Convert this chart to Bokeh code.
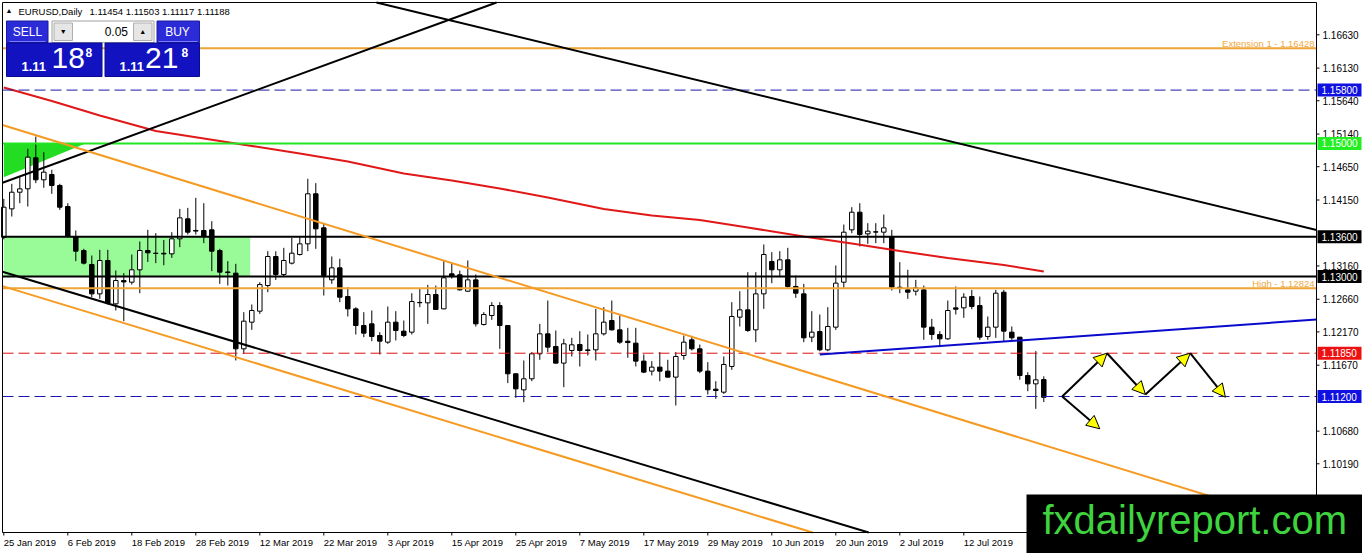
import numpy as np
from bokeh.plotting import figure
from bokeh.models import Range1d, Arrow, NormalHead, ColumnDataSource
from bokeh.core.properties import value
from bokeh.embed import file_html
from bokeh.resources import INLINE

# ---------------- data ----------------
symbol = "EURUSD,Daily"
tick_bars = [0, 8, 16, 24, 32, 40, 48, 56, 64, 72, 80, 88, 96, 104, 112, 120]
tick_labels = ["25 Jan 2019", "6 Feb 2019", "18 Feb 2019", "28 Feb 2019", "12 Mar 2019",
               "22 Mar 2019", "3 Apr 2019", "15 Apr 2019", "25 Apr 2019", "7 May 2019",
               "17 May 2019", "29 May 2019", "10 Jun 2019", "20 Jun 2019", "2 Jul 2019",
               "12 Jul 2019"]
price_ticks = [1.16630, 1.16130, 1.15640, 1.15140, 1.14650, 1.14150, 1.13160,
               1.12660, 1.12170, 1.11670, 1.10680, 1.10190]

opens = [1.13590, 1.14017, 1.14267, 1.14318, 1.14783, 1.14453, 1.14533, 1.14368, 1.14052, 1.13602,
         1.13392, 1.13182, 1.12741, 1.13242, 1.12591, 1.12940, 1.12916, 1.13102, 1.13392, 1.13352,
         1.13350, 1.13342, 1.13567, 1.13867, 1.13693, 1.13692, 1.13702, 1.13392, 1.13070, 1.13052,
         1.11916, 1.12316, 1.12481, 1.12866, 1.13302, 1.13032, 1.13202, 1.13332, 1.13492, 1.14243,
         1.13732, 1.12952, 1.13132, 1.12701, 1.12516, 1.12266, 1.12291, 1.12116, 1.12016, 1.12316,
         1.12181, 1.12166, 1.12612, 1.12606, 1.12731, 1.12516, 1.13042, 1.13027, 1.12781, 1.12951,
         1.12281, 1.12416, 1.12566, 1.12266, 1.11541, 1.11300, 1.11466, 1.11841, 1.12141, 1.11951,
         1.11701, 1.11891, 1.11981, 1.11900, 1.11901, 1.12141, 1.12341, 1.12201, 1.12030, 1.12001,
         1.11731, 1.11581, 1.11641, 1.11581, 1.11491, 1.11816, 1.12051, 1.11916, 1.11581, 1.11310,
         1.11265, 1.11651, 1.12391, 1.12501, 1.12201, 1.12741, 1.13227, 1.13102, 1.13252, 1.12852,
         1.12741, 1.12091, 1.12176, 1.11901, 1.12241, 1.12916, 1.13702, 1.13967, 1.13642, 1.13672,
         1.13667, 1.13602, 1.12840, 1.12801, 1.12781, 1.12801, 1.12241, 1.12131, 1.12066, 1.12531,
         1.12531, 1.12701, 1.12566, 1.12101, 1.12241, 1.12766, 1.12166, 1.12091, 1.11515, 1.11390,
         1.11454]
highs = [1.14167, 1.14393, 1.14493, 1.14918, 1.15103, 1.14868, 1.14603, 1.14393, 1.14102, 1.13692,
         1.13417, 1.13317, 1.13402, 1.13402, 1.13092, 1.13052, 1.13332, 1.13527, 1.13702, 1.13652,
         1.13550, 1.13667, 1.14017, 1.14032, 1.14182, 1.14102, 1.13832, 1.13417, 1.13232, 1.13192,
         1.12466, 1.12581, 1.12916, 1.13382, 1.13380, 1.13432, 1.13582, 1.13592, 1.14468, 1.14403,
         1.13802, 1.13302, 1.13267, 1.12841, 1.12540, 1.12466, 1.12491, 1.12166, 1.12551, 1.12481,
         1.12341, 1.12751, 1.12816, 1.12876, 1.12866, 1.13232, 1.13192, 1.13090, 1.13242, 1.13032,
         1.12466, 1.12616, 1.12616, 1.12270, 1.11550, 1.11741, 1.11866, 1.12291, 1.12641, 1.12191,
         1.12066, 1.12081, 1.12181, 1.12131, 1.12516, 1.12541, 1.12641, 1.12416, 1.12231, 1.12231,
         1.11831, 1.11731, 1.11866, 1.11751, 1.11866, 1.12116, 1.12110, 1.11980, 1.11716, 1.11430,
         1.11801, 1.12616, 1.12781, 1.13067, 1.13067, 1.13482, 1.13367, 1.13382, 1.13432, 1.13017,
         1.12891, 1.12481, 1.12431, 1.12541, 1.13167, 1.13782, 1.14042, 1.14102, 1.13802, 1.13802,
         1.13932, 1.13702, 1.13217, 1.13102, 1.12951, 1.12866, 1.12366, 1.12181, 1.12641, 1.12851,
         1.12751, 1.12801, 1.12701, 1.12401, 1.12801, 1.12801, 1.12251, 1.12091, 1.11565, 1.11881,
         1.11503]
lows = [1.13560, 1.13902, 1.14102, 1.14052, 1.14403, 1.14333, 1.14243, 1.14002, 1.13597, 1.13232,
        1.13182, 1.12691, 1.12666, 1.12581, 1.12491, 1.12331, 1.12881, 1.12751, 1.13220, 1.13202,
        1.13170, 1.13282, 1.13442, 1.13632, 1.13632, 1.13502, 1.13082, 1.12891, 1.12866, 1.11741,
        1.11841, 1.12201, 1.12440, 1.12766, 1.12950, 1.13002, 1.13182, 1.13317, 1.13382, 1.13417,
        1.12716, 1.12892, 1.12616, 1.12401, 1.12131, 1.12091, 1.12031, 1.11831, 1.11991, 1.12041,
        1.12091, 1.12131, 1.12541, 1.12291, 1.12501, 1.12510, 1.12970, 1.12790, 1.12770, 1.12251,
        1.12266, 1.12351, 1.11916, 1.11401, 1.11180, 1.11115, 1.11430, 1.11751, 1.11866, 1.11691,
        1.11340, 1.11800, 1.11651, 1.11816, 1.11741, 1.12116, 1.12190, 1.11991, 1.11781, 1.11651,
        1.11551, 1.11516, 1.11430, 1.11480, 1.11065, 1.11751, 1.11890, 1.11550, 1.11230, 1.11165,
        1.11240, 1.11601, 1.12251, 1.12170, 1.12016, 1.12516, 1.12901, 1.12992, 1.12832, 1.12681,
        1.12016, 1.12016, 1.11880, 1.11880, 1.12200, 1.12831, 1.13652, 1.13452, 1.13492, 1.13502,
        1.13502, 1.12791, 1.12751, 1.12666, 1.12716, 1.12051, 1.12051, 1.11941, 1.12051, 1.12431,
        1.12381, 1.12510, 1.12050, 1.12051, 1.12081, 1.12031, 1.12050, 1.11451, 1.11280, 1.11015,
        1.11117]
closes = [1.14042, 1.14267, 1.14317, 1.14793, 1.14453, 1.14568, 1.14368, 1.14042, 1.13602, 1.13382,
          1.13202, 1.12741, 1.13242, 1.12601, 1.12941, 1.12920, 1.13102, 1.13392, 1.13357, 1.13347,
          1.13340, 1.13567, 1.13882, 1.13667, 1.13683, 1.13602, 1.13382, 1.13067, 1.13060, 1.11916,
          1.12331, 1.12491, 1.12881, 1.13302, 1.13032, 1.13242, 1.13352, 1.13492, 1.14243, 1.13717,
          1.13017, 1.13132, 1.12691, 1.12516, 1.12266, 1.12151, 1.12101, 1.12031, 1.12316, 1.12191,
          1.12116, 1.12626, 1.12608, 1.12731, 1.12506, 1.12982, 1.13002, 1.12801, 1.12951, 1.12291,
          1.12431, 1.12566, 1.12266, 1.11541, 1.11315, 1.11466, 1.11841, 1.12141, 1.11941, 1.11701,
          1.11991, 1.11976, 1.11891, 1.11890, 1.12141, 1.12316, 1.12201, 1.12016, 1.12010, 1.11731,
          1.11566, 1.11641, 1.11581, 1.11491, 1.11801, 1.12016, 1.11916, 1.11581, 1.11301, 1.11290,
          1.11681, 1.12401, 1.12501, 1.12191, 1.12741, 1.13332, 1.13102, 1.13252, 1.12852, 1.12751,
          1.12081, 1.12166, 1.11901, 1.12251, 1.12902, 1.13667, 1.13967, 1.13632, 1.13682, 1.13668,
          1.13732, 1.12841, 1.12830, 1.12766, 1.12831, 1.12241, 1.12131, 1.12066, 1.12491, 1.12510,
          1.12691, 1.12551, 1.12091, 1.12241, 1.12751, 1.12181, 1.12081, 1.11515, 1.11390, 1.11450,
          1.11188]

# moving average (red curve) read at selected bars
ma_bars = [0, 6, 12, 19, 25, 31, 37, 43, 50, 56, 62, 68, 75, 81, 87, 93, 100, 106, 112, 118, 125, 130]
ma_vals = [1.15839, 1.15636, 1.15419, 1.15186, 1.15073, 1.14961, 1.14848, 1.14728, 1.14548, 1.14443,
           1.14323, 1.14188, 1.14015, 1.13917, 1.13850, 1.13737, 1.13602, 1.13497, 1.13384, 1.13279,
           1.13174, 1.13077]

# horizontal levels
level_ext = 1.16428
level_high = 1.12824
level_blue_top = 1.15800
level_green = 1.15000
level_black = [1.13600, 1.13000]
level_red = 1.11850
level_blue_low = 1.11200

# zone rectangle & triangle
zone_bars = [0.0, 30.8]
zone_prices = [1.13000, 1.13600]
tri_bars = [0.0, 10.2, 0.0]
tri_prices = [1.15000, 1.15000, 1.14492]

# trend lines: two anchor points (bar, price)
tl_black_up = [(0.0, 1.14417), (61.25, 1.17100)]
tl_black_down = [(47.09, 1.17100), (164.09, 1.13700)]
tl_black_low = [(0.0, 1.13066), (108.1, 1.09159)]
tl_orange_up = [(0.0, 1.15271), (164.09, 1.09213)]
tl_orange_low = [(0.0, 1.12851), (101.1, 1.09159)]
tl_blue = [(102.0, 1.11831), (164.09, 1.12356)]

# projected path arrows
path_bars = [132.3, 137.9, 142.7, 148.3, 152.7]
path_prices = [1.11200, 1.11850, 1.11230, 1.11850, 1.11190]
branch_bars = [132.3, 137.0]
branch_prices = [1.11200, 1.10715]

bid = closes[-1]
ask = 1.11218
lot = "0.05"

# ---------------- geometry (pixel <-> data) ----------------
PX_BAR0, PX_PER_BAR = 3.3, 8.0
P0, PPX = 1.171449, 0.00015012
W, H = 1362, 553
PL, PT, PR, PB = 2, 2, 1316, 532      # plot area (chart window) in pixels


def X(px):
    return (px - PX_BAR0) / PX_PER_BAR


def Y(py):
    return P0 - py * PPX


XMIN, XMAX, YMIN, YMAX = X(PL), X(PR), Y(PB), Y(PT)

p = figure(frame_width=W, frame_height=H,
           x_range=Range1d(X(0), X(W)), y_range=Range1d(Y(H), Y(0)),
           output_backend="svg", toolbar_location=None,
           x_axis_location=None, y_axis_location=None, min_border=0)
p.background_fill_color = "white"
p.border_fill_color = "white"
p.outline_line_color = None
p.xgrid.visible = False
p.ygrid.visible = False

FONT = value("Liberation Sans")


def txt(px, py, text, size, color="black", align="left", style="normal"):
    p.text(x=[X(px)], y=[Y(py)], text=[text], text_font=FONT, text_font_size=value(size),
           text_color=color, text_align=value(align), text_baseline=value("middle"),
           text_font_style=value(style))


def clip(x0, y0, x1, y1):
    # Liang-Barsky clip of a segment to the chart window
    dx, dy = x1 - x0, y1 - y0
    t0, t1 = 0.0, 1.0
    for pp, q in ((-dx, x0 - XMIN), (dx, XMAX - x0), (-dy, y0 - YMIN), (dy, YMAX - y0)):
        if pp == 0:
            if q < 0:
                return None
        else:
            r = q / pp
            if pp < 0:
                t0 = max(t0, r)
            else:
                t1 = min(t1, r)
    if t0 > t1:
        return None
    return [x0 + t0 * dx, x0 + t1 * dx], [y0 + t0 * dy, y0 + t1 * dy]


def ray(pts, both=True):
    (x0, y0), (x1, y1) = pts
    k = (y1 - y0) / (x1 - x0)
    a = XMIN - 5 if both else x0
    b = XMAX + 5
    return clip(a, y0 + k * (a - x0), b, y0 + k * (b - x0))


# background objects
p.quad(left=zone_bars[0], right=zone_bars[1], bottom=zone_prices[0], top=zone_prices[1],
       fill_color="#98fb98", line_color=None)
p.patch(tri_bars, tri_prices, fill_color="#22dd22", line_color=None)

# candles
idx = np.arange(len(opens))
o = np.array(opens); h = np.array(highs); l = np.array(lows); c = np.array(closes)
src = ColumnDataSource(dict(x=idx, o=o, h=h, l=l, c=c,
                            top=np.maximum(o, c), bot=np.minimum(o, c),
                            fill=["white" if cc > oo else "black" for oo, cc in zip(o, c)]))
p.segment(x0="x", y0="l", x1="x", y1="h", source=src, line_color="black", line_width=1)
p.vbar(x="x", width=0.56, top="top", bottom="bot", source=src,
       fill_color="fill", line_color="black", line_width=1)

# moving average
p.line(ma_bars, ma_vals, line_color="#e01818", line_width=2)

# horizontal levels
p.line([XMIN, XMAX], [level_ext, level_ext], line_color="#eea436", line_width=2)
p.line([XMIN, XMAX], [level_high, level_high], line_color="#eea436", line_width=2)
p.line([XMIN, XMAX], [level_green, level_green], line_color="#22e622", line_width=2)
for lv in level_black:
    p.line([XMIN, XMAX], [lv, lv], line_color="black", line_width=2)
p.line([XMIN, XMAX], [level_blue_top, level_blue_top], line_color="#1a1aa8", line_width=1, line_dash="11 5")
p.line([XMIN, XMAX], [level_red, level_red], line_color="#dd1111", line_width=1, line_dash="11 5")
p.line([XMIN, XMAX], [level_blue_low, level_blue_low], line_color="#1a1aa8", line_width=1, line_dash="11 5")

# trend lines
for pts, col in [(tl_black_up, "black"), (tl_black_down, "black"), (tl_black_low, "black"),
                 (tl_orange_up, "#f59a22"), (tl_orange_low, "#f59a22")]:
    seg = ray(pts)
    if seg:
        p.line(seg[0], seg[1], line_color=col, line_width=2)
seg = ray(tl_blue, both=False)
p.line(seg[0], seg[1], line_color="#0a0acc", line_width=2)

# arrows
head = dict(size=13, fill_color="#ffff00", line_color="black", line_width=1)
for i in range(len(path_bars) - 1):
    p.add_layout(Arrow(end=NormalHead(**head),
                       x_start=path_bars[i], y_start=path_prices[i],
                       x_end=path_bars[i + 1], y_end=path_prices[i + 1],
                       line_color="black", line_width=2))
p.add_layout(Arrow(end=NormalHead(**head),
                   x_start=branch_bars[0], y_start=branch_prices[0],
                   x_end=branch_bars[1], y_end=branch_prices[1],
                   line_color="black", line_width=2))

# level captions
txt(1314, 42.8, f"Extension 1 - {level_ext:.5f}", "9.5px", color="#eeaa44", align="right")
txt(1314, 282.8, f"High - {level_high:.5f}", "9.5px", color="#eeaa44", align="right")

# chart window border
p.line([XMIN, XMIN, XMAX, XMAX, XMIN], [YMIN, YMAX, YMAX, YMIN, YMIN], line_color="black", line_width=1)

# price scale (right)
p.segment(x0=[XMAX] * len(price_ticks), x1=[X(PR + 3)] * len(price_ticks),
          y0=price_ticks, y1=price_ticks, line_color="black", line_width=1)
p.text(x=[X(PR + 6)] * len(price_ticks), y=price_ticks, text=[f"{v:.5f}" for v in price_ticks],
       text_font=FONT, text_font_size=value("10px"), text_color="black",
       text_align=value("left"), text_baseline=value("middle"))

# time scale (bottom)
p.segment(x0=tick_bars, x1=tick_bars, y0=[YMIN] * len(tick_bars), y1=[Y(PB + 3)] * len(tick_bars),
          line_color="black", line_width=1)
p.text(x=tick_bars, y=[Y(542)] * len(tick_bars), text=tick_labels,
       text_font=FONT, text_font_size=value("9.5px"), text_color="black",
       text_align=value("left"), text_baseline=value("middle"))

# price tags
tag_levels = [level_blue_top, level_green, level_black[0], level_black[1], level_red, level_blue_low]
tag_colors = ["#1010e0", "#22ee22", "black", "black", "#ee1111", "#1010e0"]
p.quad(left=[X(PR + 1)] * len(tag_levels), right=[X(W - 1)] * len(tag_levels),
       top=[v + 6.5 * PPX for v in tag_levels], bottom=[v - 6.5 * PPX for v in tag_levels],
       fill_color=tag_colors, line_color=None)
p.text(x=[X(PR + 5)] * len(tag_levels), y=tag_levels, text=[f"{v:.5f}" for v in tag_levels],
       text_font=FONT, text_font_size=value("10px"), text_color="white",
       text_align=value("left"), text_baseline=value("middle"))

# ---- one-click trading panel ----
p.quad(left=X(6), right=X(47.5), top=Y(20.5), bottom=Y(42), fill_color="#2b2bd8", line_color="#1a1aa0")
p.quad(left=X(156.5), right=X(199), top=Y(20.5), bottom=Y(42), fill_color="#2b2bd8", line_color="#1a1aa0")
p.quad(left=X(51.5), right=X(153.5), top=Y(20.5), bottom=Y(42), fill_color="white", line_color="#a0a0a0")
p.quad(left=X(53.5), right=X(72), top=Y(22.5), bottom=Y(40), fill_color="#e6e6e6", line_color="#b0b0b0")
p.quad(left=X(133), right=X(151.5), top=Y(22.5), bottom=Y(40), fill_color="#e6e6e6", line_color="#b0b0b0")
p.quad(left=X(6), right=X(101.5), top=Y(42.5), bottom=Y(76), fill_color="#1212c0", line_color="#0a0a90")
p.quad(left=X(104.5), right=X(199), top=Y(42.5), bottom=Y(76), fill_color="#1212c0", line_color="#0a0a90")
p.line([X(9), X(45)], [Y(41), Y(41)], line_color="#7b7bff", line_width=1)
p.line([X(158), X(197)], [Y(41), Y(41)], line_color="#7b7bff", line_width=1)

txt(5, 10, "\u25b2", "7px")
txt(18, 10.5, symbol, "9.5px")
txt(89, 10.5, f"{opens[-1]:.5f} {highs[-1]:.5f} {lows[-1]:.5f} {closes[-1]:.5f}", "9.5px")
txt(27, 31, "SELL", "12px", color="white", align="center")
txt(177, 31, "BUY", "12px", color="white", align="center")
txt(127.5, 31, lot, "12px", align="right")
txt(62.8, 31, "\u25bc", "7px", align="center")
txt(142.2, 31, "\u25b2", "7px", align="center")
bid_s, ask_s = f"{bid:.5f}", f"{ask:.5f}"
txt(21, 65.5, bid_s[:4], "13px", color="white", style="bold")
txt(51, 57.8, bid_s[4:6], "30px", color="white")
txt(85, 51.5, bid_s[6], "12px", color="white", style="bold")
txt(119, 65.5, ask_s[:4], "13px", color="white", style="bold")
txt(144.5, 57.8, ask_s[4:6], "30px", color="white")
txt(181, 51.5, ask_s[6], "12px", color="white", style="bold")

# watermark
p.quad(left=X(1026), right=X(W), top=Y(494), bottom=Y(H), fill_color="black", line_color=None)
txt(1042, 519.5, "fxdailyreport.com", "40px", color="#3fd43f")

open("out.html", "w").write(file_html(p, INLINE))
